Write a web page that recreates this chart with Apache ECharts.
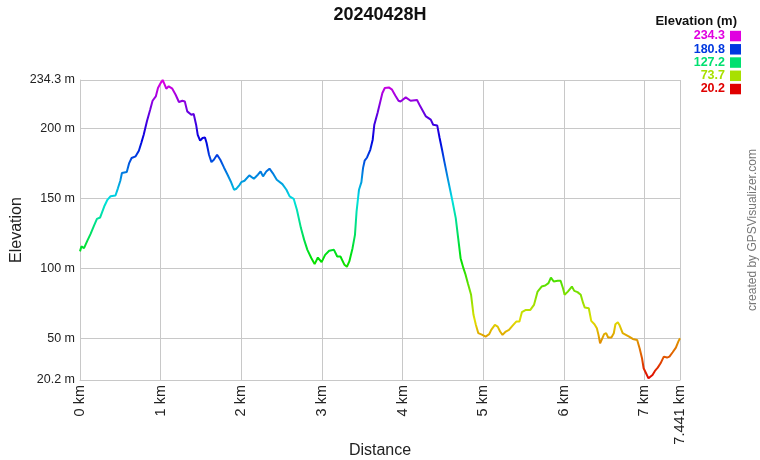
<!DOCTYPE html>
<html>
<head>
<meta charset="utf-8">
<script src="https://cdn.jsdelivr.net/npm/echarts@6/dist/echarts.min.js"></script>
<style>
html,body{margin:0;padding:0;background:#fff;}
#chart{width:760px;height:460px;}
</style>
</head>
<body>
<div id="chart"></div>
<script>
// ---- data ----
var chartTitle = '20240428H';
var distanceKm = [
  0, 0.017, 0.05, 0.09, 0.13, 0.17, 0.21, 0.25, 0.30, 0.34, 0.38, 0.44, 0.47, 0.50, 0.52, 0.58, 0.61, 0.64, 0.69, 0.73,
  0.76, 0.79, 0.83, 0.87, 0.90, 0.94, 0.967, 1.0, 1.025, 1.05, 1.07, 1.10, 1.145, 1.186, 1.227, 1.27, 1.30, 1.33, 1.38, 1.41,
  1.44, 1.46, 1.49, 1.52, 1.55, 1.57, 1.60, 1.63, 1.66, 1.70, 1.74, 1.785, 1.83, 1.87, 1.91, 1.94, 1.98,
  2.0, 2.04, 2.10, 2.156, 2.206, 2.24, 2.27, 2.31, 2.35, 2.39, 2.44, 2.51, 2.56, 2.60, 2.65, 2.69, 2.74, 2.78, 2.82, 2.87,
  2.91, 2.95, 2.996, 3.04, 3.09, 3.15, 3.19, 3.23, 3.28, 3.31, 3.34, 3.38, 3.41, 3.43, 3.46, 3.49, 3.51, 3.53, 3.56, 3.60,
  3.63, 3.65, 3.69, 3.72, 3.75, 3.78, 3.83, 3.87, 3.91, 3.95,
  3.975, 4.04, 4.10, 4.18, 4.22, 4.29, 4.35, 4.38, 4.43, 4.46, 4.49, 4.52, 4.56, 4.59, 4.62, 4.66, 4.69, 4.72, 4.755, 4.78,
  4.81, 4.85, 4.88, 4.91, 4.94, 4.99, 5.03, 5.075, 5.10, 5.145, 5.18, 5.21, 5.24, 5.28, 5.32, 5.365, 5.41, 5.45, 5.48, 5.53,
  5.585, 5.63, 5.675, 5.725, 5.77, 5.81, 5.84, 5.875, 5.925, 5.96,
  5.99, 6.01, 6.05, 6.10, 6.13, 6.17, 6.21, 6.24, 6.26, 6.31, 6.34, 6.38, 6.41, 6.43, 6.45, 6.47, 6.50, 6.525, 6.55, 6.59,
  6.62, 6.64, 6.67, 6.69, 6.73, 6.77, 6.81, 6.855, 6.91, 6.94, 6.97, 6.99, 7.02, 7.05, 7.07, 7.10, 7.13, 7.165, 7.20, 7.24,
  7.28, 7.31, 7.35, 7.39, 7.42, 7.441
];
var elevationM = [
  112, 115.5, 114.3, 119.5, 124.3, 129.8, 135.2, 136.2, 144, 148.8, 151.4, 151.9, 157, 162.4, 167.9, 168.6, 175, 178.6, 179.8, 183.8,
  189.3, 195.2, 204.8, 213.1, 219.5, 222.6, 228.6, 232.1, 234.3, 231, 228.1, 229.8, 228.1, 223.8, 218.6, 219.5, 219, 211.9, 209.5, 210,
  202.4, 195.2, 191, 192.9, 193.3, 189.3, 181, 175.7, 177.4, 181, 177.4, 171.9, 166.7, 161.9, 156, 156.7, 159.5,
  161.4, 162.4, 166.2, 163.8, 166.7, 169, 165.5, 169, 171, 167.9, 163.1, 160, 156, 151.2, 149.5, 141.7, 128.6, 120.2, 113.1, 107.1,
  102.9, 107.6, 104.3, 109.5, 112.4, 113.1, 108.3, 108.3, 102.4, 101, 104.8, 114.3, 123.8, 140.5, 156, 161.4, 171.4, 176.7, 179, 184.5,
  191.7, 202.4, 210.7, 217.9, 225, 228.6, 229, 227.4, 223.3, 219.5,
  219, 221.9, 219.5, 220, 215.5, 208.3, 206, 202.4, 201.9, 192.9, 184.5, 175.7, 164.3, 156, 147.6, 135.7, 121.4, 107.1, 100, 95.7,
  89.3, 81, 66.7, 59.5, 53.6, 52.4, 51.2, 52.9, 56, 59.5, 58.3, 54.8, 52.4, 54.8, 56, 59, 61.9, 61.9, 68.6, 70.2,
  70.2, 73.8, 83.3, 86.9, 87.6, 89.3, 93.3, 90.5, 91, 91,
  85.7, 81, 83.3, 86.9, 83.8, 82.9, 81, 75, 71.9, 71.4, 62.4, 60, 57.1, 52.4, 46.4, 47.6, 52.9, 53.6, 50.5, 50.5,
  53.6, 60, 61.4, 59.5, 53.6, 52.4, 51.2, 49.5, 48.8, 42.9, 35.7, 28.6, 25, 21.4, 20.2, 23.8, 26.7, 29, 32.1, 36.9,
  36.2, 36.9, 40, 43.3, 47.6, 50
];
var elevMin = 20.2;
var elevMax = 234.3;
var distMax = 7.441;
var yTickValues = [20.2, 50, 100, 150, 200, 234.3];
var xTickValues = [0, 1, 2, 3, 4, 5, 6, 7, 7.441];
var legendValues = [234.3, 180.8, 127.2, 73.7, 20.2];
var legendTitle = 'Elevation (m)';
var creditText = 'created by GPSVisualizer.com';

// ---- colour scale: hue 0 (red) at min to 300 (magenta) at max ----
function hueColor(h) {
  var c = 224;
  h = ((h % 360) + 360) % 360;
  var x = c * (1 - Math.abs((h / 60) % 2 - 1));
  var r, g, b;
  if (h < 60) { r = c; g = x; b = 0; }
  else if (h < 120) { r = x; g = c; b = 0; }
  else if (h < 180) { r = 0; g = c; b = x; }
  else if (h < 240) { r = 0; g = x; b = c; }
  else if (h < 300) { r = x; g = 0; b = c; }
  else { r = c; g = 0; b = x; }
  function hx(n) { n = Math.round(n); return (n < 16 ? '0' : '') + n.toString(16); }
  return '#' + hx(r) + hx(g) + hx(b);
}
function valueColor(v) {
  return hueColor(300 * (v - elevMin) / (elevMax - elevMin));
}
var stops = [];
for (var h = 0; h <= 300; h += 15) stops.push(hueColor(h));

var seriesData = distanceKm.map(function (d, i) { return [d, elevationM[i]]; });

var font = '"Liberation Sans", Arial, sans-serif';

var graphics = [];
graphics.push({
  type: 'text', x: 737, y: 21,
  style: { text: legendTitle, font: 'bold 13px ' + font, fill: '#111', align: 'right', verticalAlign: 'middle' }
});
legendValues.forEach(function (v, i) {
  var cy = 36 + i * 13.25;
  graphics.push({
    type: 'text', x: 725, y: cy,
    style: { text: v.toFixed(1), font: 'bold 12.5px ' + font, fill: valueColor(v), align: 'right', verticalAlign: 'middle' }
  });
  graphics.push({
    type: 'rect', shape: { x: 730, y: cy - 5.2, width: 11, height: 10.5 },
    style: { fill: valueColor(v) }
  });
});
graphics.push({
  type: 'text', x: 753, y: 230, rotation: Math.PI / 2,
  style: { text: creditText, font: '12px ' + font, fill: '#777', align: 'center', verticalAlign: 'middle' }
});

var chart = echarts.init(document.getElementById('chart'), null, { renderer: 'canvas' });
chart.setOption({
  animation: false,
  backgroundColor: '#fff',
  title: {
    text: chartTitle, left: 'center', top: 1,
    textStyle: { fontFamily: font, fontSize: 18, fontWeight: 'bold', color: '#111' }
  },
  grid: { left: 80, right: 80, top: 80, bottom: 80, containLabel: false, outerBoundsMode: 'none' },
  xAxis: {
    type: 'value', min: 0, max: distMax,
    name: 'Distance', nameLocation: 'middle', nameGap: 63, nameMoveOverlap: false,
    nameTextStyle: { fontFamily: font, fontSize: 16, color: '#222' },
    axisLine: { show: true, lineStyle: { color: '#c8c8c8', width: 1 } },
    axisTick: { show: false, customValues: xTickValues },
    axisLabel: {
      customValues: xTickValues, rotate: 90, margin: 5,
      fontFamily: font, fontSize: 14.5, color: '#222',
      formatter: function (v) { return v + ' km'; }
    },
    splitLine: { show: true, lineStyle: { color: '#c8c8c8', width: 1 } }
  },
  yAxis: {
    type: 'value', min: elevMin, max: elevMax,
    name: 'Elevation', nameLocation: 'middle', nameGap: 55, nameMoveOverlap: false,
    nameTextStyle: { fontFamily: font, fontSize: 16, color: '#222' },
    axisLine: { show: true, lineStyle: { color: '#c8c8c8', width: 1 } },
    axisTick: { show: false, customValues: yTickValues },
    axisLabel: {
      customValues: yTickValues, margin: 5,
      fontFamily: font, fontSize: 12.5, color: '#222',
      formatter: function (v) { return v + ' m'; }
    },
    splitLine: { show: true, lineStyle: { color: '#c8c8c8', width: 1 } }
  },
  visualMap: {
    show: false, type: 'continuous', dimension: 1,
    min: elevMin, max: elevMax, seriesIndex: 0,
    inRange: { color: stops }
  },
  series: [{
    type: 'line', data: seriesData, showSymbol: false, smooth: false,
    lineStyle: { width: 2 }
  }],
  graphic: graphics
});
</script>
</body>
</html>
